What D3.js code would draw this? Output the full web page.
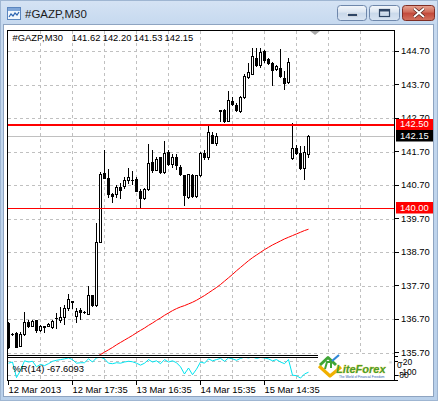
<!DOCTYPE html>
<html><head><meta charset="utf-8">
<script src="https://cdn.jsdelivr.net/npm/d3@7"></script>
<style>html,body{margin:0;padding:0;background:#fff;overflow:hidden}</style>
</head><body>
<script>
// ---------------- data ----------------
const symbolTitle = "#GAZP,M30";
const headerValues = ["141.62", "142.20", "141.53", "142.15"];
const opens  = [136.57,136.26,136.29,135.90,136.25,136.62,136.50,136.67,136.37,136.48,136.50,136.47,136.72,136.67,136.77,137.04,137.24,136.80,136.97,136.91,
                136.84,137.42,137.12,139.01,141.05,140.90,140.43,140.43,140.63,140.67,140.85,140.86,140.87,140.53,140.30,140.57,141.39,141.16,141.54,141.09,
                141.69,141.34,141.54,141.24,140.99,140.33,140.99,140.37,140.99,141.66,141.54,142.19,141.96,142.93,142.95,142.62,143.20,143.10,142.90,143.32,
                143.92,144.02,144.50,144.28,144.70,144.45,144.35,144.15,144.20,143.88,143.77,141.52,141.80,141.65,141.20,141.62];
const highs  = [136.60,136.29,136.31,136.30,136.90,136.67,136.68,136.68,136.52,136.50,136.57,136.66,136.87,137.07,137.12,137.44,137.24,137.04,137.02,136.94,
                137.69,137.42,139.56,141.08,141.74,141.17,140.45,140.69,140.75,140.95,141.20,141.12,140.93,140.57,140.60,141.92,141.74,141.54,141.55,142.01,
                141.74,141.64,141.64,141.29,141.00,141.04,141.02,141.00,141.69,141.74,142.49,142.29,142.26,142.95,142.97,143.50,143.32,143.15,143.35,144.00,
                144.35,144.80,144.80,144.80,144.72,144.50,144.38,144.28,144.75,144.10,144.48,142.55,141.88,141.85,141.85,142.20];
const lows   = [135.82,136.22,135.85,135.88,136.22,136.47,136.48,136.30,136.35,136.32,136.48,136.44,136.44,136.62,136.54,136.97,137.02,136.60,136.70,136.87,
                136.84,137.10,137.10,139.00,140.90,140.35,140.20,140.33,140.30,140.60,140.75,140.72,140.52,140.00,140.28,140.55,141.09,141.14,141.06,141.07,
                141.29,141.24,141.19,140.99,140.10,140.30,140.33,140.35,140.96,141.49,141.49,141.94,141.89,142.60,142.58,142.60,143.10,142.90,142.88,143.30,
                143.90,144.00,144.25,144.22,144.38,144.32,143.68,144.12,143.92,143.58,143.75,141.48,141.62,141.18,140.88,141.53];
const closes = [135.85,136.24,135.87,136.25,136.60,136.50,136.65,136.37,136.50,136.47,136.55,136.65,136.73,136.77,137.04,137.30,137.21,136.94,136.90,136.90,
                137.42,137.12,139.01,141.03,140.92,140.43,140.38,140.63,140.55,140.84,140.95,140.85,140.53,140.30,140.57,141.35,141.16,141.49,141.09,141.66,
                141.34,141.54,141.29,141.02,140.40,141.02,140.37,140.99,141.66,141.54,142.29,141.96,142.16,142.90,142.62,143.25,143.12,142.95,143.32,143.95,
                144.08,144.55,144.28,144.68,144.42,144.35,144.12,144.25,143.95,143.75,144.38,141.80,141.65,141.20,141.70,142.15];
const maStart = 21;
const maValues = [135.52,135.58,135.64,135.71,135.78,135.85,135.93,136.00,136.07,136.14,136.21,136.29,136.36,136.43,136.51,136.58,136.66,136.73,136.81,136.88,
                  136.95,137.01,137.06,137.10,137.15,137.20,137.26,137.33,137.40,137.48,137.56,137.64,137.73,137.83,137.93,138.03,138.14,138.24,138.34,138.44,
                  138.53,138.61,138.69,138.77,138.84,138.91,138.97,139.03,139.09,139.14,139.19,139.24,139.29,139.34,139.38];
const wprValues = [-30,-25,-90,-60,-20,-25,-22,-45,-35,-40,-32,-22,-18,-15,-12,-8,-15,-30,-28,-28,
                   -12,-25,-8,-5,-12,-30,-32,-28,-30,-25,-22,-24,-30,-38,-30,-15,-25,-20,-32,-15,
                   -25,-20,-28,-45,-75,-50,-78,-55,-25,-30,-12,-20,-15,-10,-22,-8,-12,-18,-10,-5,
                   -8,-4,-10,-6,-8,-12,-20,-15,-25,-32,-15,-80,-82,-92,-75,-67.6093];
const wprLabel = "%R(14) -67.6093";
const priceTicks = [144.70,143.70,142.70,141.70,140.70,139.70,138.70,137.70,136.70,135.70];
const timeTickIdx = [0,16,32,48,64];
const timeLabels = ["12 Mar 2013","12 Mar 17:35","13 Mar 16:35","14 Mar 15:35","15 Mar 14:35"];
const levelPrices = [142.50, 140.00];
const bidPrice = 142.15;
const wprLevels = [-20, -80];
const wprAxisLabels = ["-80", "-100", "0", "-20"];
const wprAxisValues = [-80, -100, 0, -20];

// ---------------- drawing ----------------
const W = 438, H = 401;
const F = "'Liberation Sans', Arial, sans-serif";
const svg = d3.select("body").append("svg").attr("width", W).attr("height", H).style("display", "block");
const defs = svg.append("defs");

function grad(id, stops) {
  const g = defs.append("linearGradient").attr("id", id).attr("x1", 0).attr("y1", 0).attr("x2", 0).attr("y2", 1);
  stops.forEach(s => g.append("stop").attr("offset", s[0]).attr("stop-color", s[1]));
}
grad("frame", [[0, "#d5e3f4"], [0.06, "#c6d9ef"], [1, "#b9d0ea"]]);
grad("btn", [[0, "#f4f7fb"], [0.45, "#dbe5f1"], [0.5, "#c9d8ea"], [1, "#d8e4f2"]]);
grad("close", [[0, "#e8a593"], [0.45, "#cf6a58"], [0.5, "#c2483a"], [1, "#d3735f"]]);

// window frame
svg.append("rect").attr("width", W).attr("height", H).attr("fill", "url(#frame)");
svg.append("rect").attr("x", 0.5).attr("y", 0.5).attr("width", W - 1).attr("height", H - 1)
  .attr("fill", "none").attr("stroke", "#9fb6d2");

// title bar icon
const ic = svg.append("g");
ic.append("rect").attr("x", 7.5).attr("y", 7.5).attr("width", 13).attr("height", 12).attr("fill", "#f2f7fd").attr("stroke", "#5b86bf");
ic.append("rect").attr("x", 8).attr("y", 8).attr("width", 12).attr("height", 3).attr("fill", "#7fa6d8");
ic.append("polyline").attr("points", "9,17 11,14 13,16 15,13 17,15 19,12").attr("fill", "none").attr("stroke", "#2d64b0").attr("stroke-width", 1.2);
svg.append("text").attr("x", 25).attr("y", 17.5).attr("font-family", F).attr("font-size", 11.5).attr("fill", "#1b1b1b").text(symbolTitle);

// buttons
const btn = svg.append("g");
btn.append("rect").attr("x", 337.5).attr("y", 5.5).attr("width", 29).attr("height", 15).attr("rx", 3).attr("fill", "url(#btn)").attr("stroke", "#6e87ab");
btn.append("rect").attr("x", 347.5).attr("y", 13.5).attr("width", 10).attr("height", 3).attr("fill", "#2e4565").attr("stroke", "#ffffff").attr("stroke-width", 0.6);
btn.append("rect").attr("x", 369.5).attr("y", 5.5).attr("width", 30).attr("height", 15).attr("rx", 3).attr("fill", "url(#btn)").attr("stroke", "#6e87ab");
btn.append("rect").attr("x", 379.5).attr("y", 9.5).attr("width", 10).attr("height", 7).attr("fill", "none").attr("stroke", "#2e4565").attr("stroke-width", 1.2);
btn.append("rect").attr("x", 379.5).attr("y", 9.5).attr("width", 10).attr("height", 2).attr("fill", "#2e4565");
btn.append("rect").attr("x", 402.5).attr("y", 5.5).attr("width", 32).attr("height", 15).attr("rx", 3).attr("fill", "url(#close)").attr("stroke", "#7e2d24");
btn.append("path").attr("d", "M414,8.5 L424,17 M424,8.5 L414,17").attr("stroke", "#4a1a14").attr("stroke-width", 3.2);
btn.append("path").attr("d", "M414,8.5 L424,17 M424,8.5 L414,17").attr("stroke", "#ffffff").attr("stroke-width", 2);

// client area
svg.append("rect").attr("x", 3.5).attr("y", 24.5).attr("width", 430).attr("height", 372).attr("fill", "#ffffff").attr("stroke", "#8ea4c1");

// scales
const x = d3.scaleLinear().domain([0, 75]).range([8.5, 308.5]);
const y = d3.scaleLinear().domain([135.70, 144.70]).range([352.5, 51]);
const yW = d3.scaleLinear().domain([-100, 0]).range([380, 356]);
const L = 7, T = 30, R = 394, MB = 355, IT = 357, B = 380;

// clips
defs.append("clipPath").attr("id", "cm").append("rect").attr("x", L + 1).attr("y", T + 1).attr("width", R - L - 1).attr("height", MB - T - 1);
defs.append("clipPath").attr("id", "ci").append("rect").attr("x", L + 1).attr("y", IT + 1).attr("width", R - L - 1).attr("height", B - IT - 1);

// grid
const grid = svg.append("g").attr("stroke", "#c0c0c0").attr("stroke-dasharray", "3,3").attr("shape-rendering", "crispEdges");
d3.range(8, 89, 8).forEach(i => {
  const gx = Math.floor(x(i)) + 0.5;
  grid.append("line").attr("x1", gx).attr("x2", gx).attr("y1", T + 1).attr("y2", MB);
  grid.append("line").attr("x1", gx).attr("x2", gx).attr("y1", IT + 1).attr("y2", B);
});
priceTicks.forEach(v => {
  const gy = Math.round(y(v)) + 0.5;
  grid.append("line").attr("x1", L + 1).attr("x2", R).attr("y1", gy).attr("y2", gy);
});
wprLevels.forEach(v => {
  const gy = Math.round(yW(v)) + 0.5;
  grid.append("line").attr("x1", L + 1).attr("x2", R).attr("y1", gy).attr("y2", gy);
});

// bid line
const main = svg.append("g").attr("clip-path", "url(#cm)");
const by = Math.round(y(bidPrice)) + 0.5;
main.append("line").attr("x1", L + 1).attr("x2", R).attr("y1", by).attr("y2", by).attr("stroke", "#c0c0c0").attr("shape-rendering", "crispEdges");

// moving average
main.append("path").datum(maValues)
  .attr("d", d3.line().x((d, k) => x(maStart + k)).y(d => y(d)))
  .attr("fill", "none").attr("stroke", "#ff0000").attr("stroke-width", 1);

// candles
const cg = main.append("g").attr("shape-rendering", "crispEdges");
opens.forEach((o, i) => {
  const c = closes[i], h = highs[i], l = lows[i];
  const cx = Math.floor(x(i));
  const yh = Math.round(y(h)), yl = Math.round(y(l));
  const yt = Math.round(y(Math.max(o, c))), yb = Math.round(y(Math.min(o, c)));
  cg.append("rect").attr("x", cx).attr("y", yh).attr("width", 1).attr("height", yl - yh + 1).attr("fill", "#000");
  cg.append("rect").attr("x", cx - 1).attr("y", yt).attr("width", 3).attr("height", yb - yt + 1).attr("fill", "#000");
  if (c > o && yb - yt > 1) {
    cg.append("rect").attr("x", cx).attr("y", yt + 1).attr("width", 1).attr("height", yb - yt - 1).attr("fill", "#fff");
  }
});

// horizontal level lines
levelPrices.forEach((v, k) => {
  const ly = Math.round(y(v));
  main.append("rect").attr("x", L + 1).attr("y", k === 0 ? ly - 1 : ly).attr("width", R - L - 1).attr("height", k === 0 ? 2 : 1)
    .attr("fill", "#ff0000").attr("shape-rendering", "crispEdges");
});

// shift marker
svg.append("polygon").attr("points", "310,31 320,31 315,35").attr("fill", "#a8a8a8");

// %R indicator
const ind = svg.append("g").attr("clip-path", "url(#ci)");
ind.append("path").datum(wprValues)
  .attr("d", d3.line().x((d, i) => x(i)).y(d => yW(d)))
  .attr("fill", "none").attr("stroke", "#00e5f0").attr("stroke-width", 1);

// frame lines
const fr = svg.append("g").attr("stroke", "#000").attr("shape-rendering", "crispEdges");
fr.append("line").attr("x1", L + 0.5).attr("x2", L + 0.5).attr("y1", T).attr("y2", B + 1);
fr.append("line").attr("x1", L).attr("x2", R + 1).attr("y1", T + 0.5).attr("y2", T + 0.5);
fr.append("line").attr("x1", R + 0.5).attr("x2", R + 0.5).attr("y1", T).attr("y2", B + 1);
fr.append("line").attr("x1", L).attr("x2", R + 1).attr("y1", MB + 0.5).attr("y2", MB + 0.5);
fr.append("line").attr("x1", L).attr("x2", R + 1).attr("y1", IT + 0.5).attr("y2", IT + 0.5);
fr.append("line").attr("x1", L).attr("x2", R + 1).attr("y1", B + 0.5).attr("y2", B + 0.5);

// header texts
svg.append("text").attr("x", 12.5).attr("y", 40.5).attr("font-family", F).attr("font-size", 9.4).attr("fill", "#000").text(symbolTitle);
const hx = [71.7, 102.7, 133.7, 164.5];
headerValues.forEach((v, k) => svg.append("text").attr("x", hx[k]).attr("y", 40.5)
  .attr("font-family", F).attr("font-size", 9.4).attr("fill", "#000").text(v));
svg.append("text").attr("x", 12.5).attr("y", 371.5).attr("font-family", F).attr("font-size", 9.4).attr("fill", "#000").text(wprLabel);

// price axis
const pAxis = svg.append("g").attr("transform", `translate(${R + 1},0)`)
  .call(d3.axisRight(y).tickValues(priceTicks).tickSize(4).tickPadding(2).offset(0).tickFormat(d3.format(".2f")));
pAxis.select(".domain").remove();
pAxis.attr("font-family", F).attr("font-size", 9.4);
pAxis.selectAll("line").attr("stroke", "#000").attr("shape-rendering", "crispEdges");
pAxis.selectAll("text").attr("fill", "#000");

// time axis
const tAxis = svg.append("g").attr("transform", `translate(0,${B + 1})`)
  .call(d3.axisBottom(x).tickValues(timeTickIdx).tickSize(4).tickPadding(1.5).offset(0).tickFormat((d, k) => timeLabels[k]));
tAxis.select(".domain").remove();
tAxis.attr("font-family", F).attr("font-size", 9.4);
tAxis.selectAll("line").attr("stroke", "#000").attr("shape-rendering", "crispEdges");
tAxis.selectAll("text").attr("text-anchor", "start").attr("x", 0).attr("fill", "#000");

// price labels (boxes)
function priceBox(v, bg) {
  const cy = y(v) - 0.5;
  svg.append("rect").attr("x", R + 2).attr("y", Math.round(cy - 5.5)).attr("width", 37).attr("height", 11.5).attr("fill", bg);
  svg.append("text").attr("x", R + 6).attr("y", cy).attr("dy", "0.35em").attr("font-family", F).attr("font-size", 9.4)
    .attr("fill", "#fff").text(d3.format(".2f")(v));
}
priceBox(levelPrices[0], "#ff0000");
priceBox(bidPrice, "#000000");
priceBox(levelPrices[1], "#ff0000");

// %R axis labels
const wx = [396.5, 399.5, 397, 400];
const wy = [378, 375, 368, 365];
wprAxisLabels.forEach((t, k) => {
  svg.append("text").attr("x", wx[k]).attr("y", wy[k]).attr("font-family", F).attr("font-size", 8.5).attr("fill", "#000").text(t);
});
wprAxisValues.forEach(v => {
  const ty = Math.round(yW(v)) + 0.5;
  svg.append("line").attr("x1", R + 1).attr("x2", R + 4).attr("y1", ty).attr("y2", ty).attr("stroke", "#000").attr("shape-rendering", "crispEdges");
});

// LiteForex logo
const lg = svg.append("g");
lg.append("rect").attr("x", 318).attr("y", 354).attr("width", 76).attr("height", 26).attr("fill", "#ffffff");
lg.append("path").attr("d", "M319,366 L330,376 L341,367").attr("fill", "none").attr("stroke", "#f0b000").attr("stroke-width", 3.2).attr("stroke-linejoin", "round");
lg.append("path").attr("d", "M320,365 L328,357.5 L336,365").attr("fill", "none").attr("stroke", "#3fa535").attr("stroke-width", 3).attr("stroke-linejoin", "round");
lg.append("path").attr("d", "M325,369 L327,362 L331,362 L331,368").attr("fill", "none").attr("stroke", "#3fa535").attr("stroke-width", 2);
lg.append("path").attr("d", "M332,361 L339,355").attr("fill", "none").attr("stroke", "#2f86d6").attr("stroke-width", 2.2);
lg.append("text").attr("x", 336).attr("y", 373).attr("font-family", F).attr("font-size", 11).attr("font-weight", "bold").attr("font-style", "italic")
  .attr("fill", "#4a9e2c").attr("stroke", "#f3cf3a").attr("stroke-width", 0.5).attr("paint-order", "stroke").text("LiteForex");
lg.append("text").attr("x", 389).attr("y", 364).attr("font-family", F).attr("font-size", 4).attr("fill", "#888").text("®");
lg.append("text").attr("x", 339).attr("y", 377.5).attr("font-family", F).attr("font-size", 3.2).attr("fill", "#2b62b0").text("The World of Financial Freedom");
</script>
</body></html>
